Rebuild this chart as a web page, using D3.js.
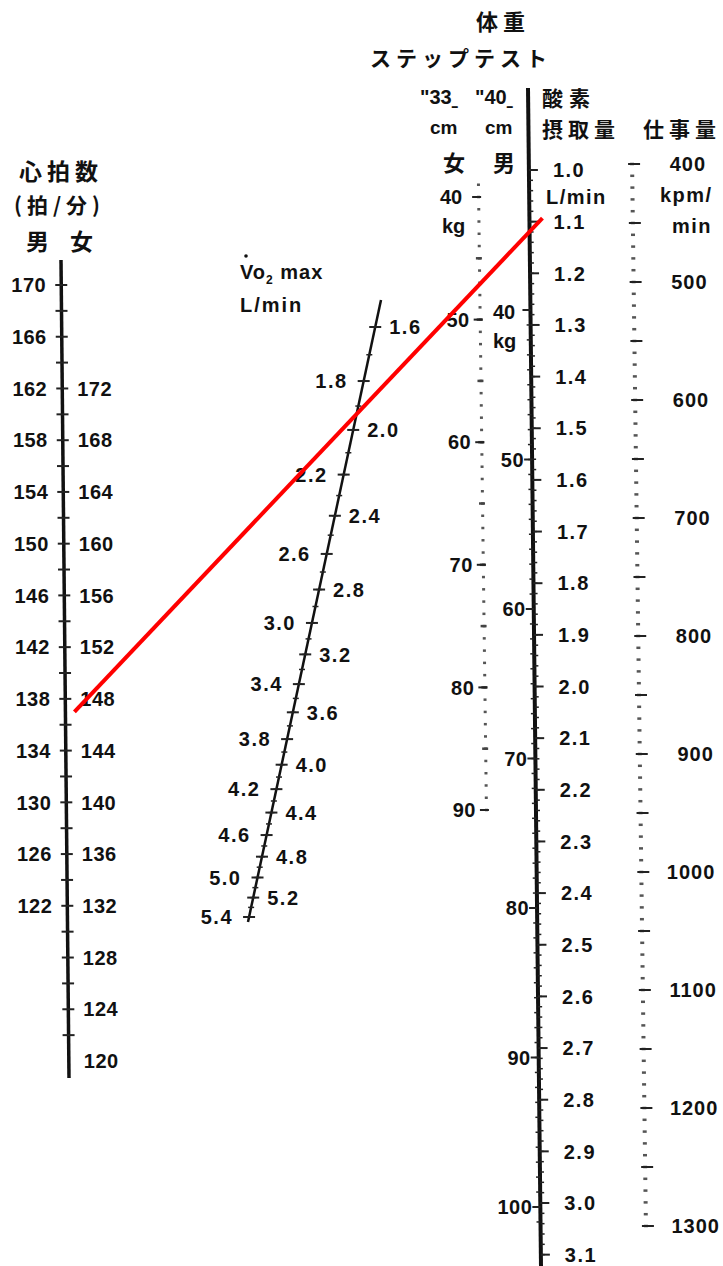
<!DOCTYPE html>
<html>
<head>
<meta charset="utf-8">
<script src="https://cdn.jsdelivr.net/npm/d3@7"></script>
<style>
  body { margin: 0; background: #fff; }
  text { font-family: "Liberation Sans", Arial, sans-serif; fill: #111; }
  .jp { font-family: "Noto Sans CJK JP", sans-serif; font-weight: 700; }
</style>
</head>
<body>
<div id="chart"></div>
<script>
// heart rate (bpm) labels, male on the left, female on the right
var hrMaleLabels = [170, 166, 162, 158, 154, 150, 146, 142, 138, 134, 130, 126, 122];
var hrFemaleLabels = [172, 168, 164, 160, 156, 152, 148, 144, 140, 136, 132, 128, 124, 120];
// VO2max L/min
var vo2Labels = [1.6, 1.8, 2.0, 2.2, 2.4, 2.6, 2.8, 3.0, 3.2, 3.4, 3.6, 3.8, 4.0, 4.2, 4.4, 4.6, 4.8, 5.0, 5.2, 5.4];
// body weight, step test (33cm women / 40cm men)
var femaleWeightLabels = [40, 50, 60, 70, 80, 90];
var maleWeightLabels = [40, 50, 60, 70, 80, 90, 100];
// oxygen uptake L/min
var o2Labels = [1.0, 1.1, 1.2, 1.3, 1.4, 1.5, 1.6, 1.7, 1.8, 1.9, 2.0, 2.1, 2.2, 2.3, 2.4, 2.5, 2.6, 2.7, 2.8, 2.9, 3.0, 3.1];
// work load kpm/min
var workLabels = [400, 500, 600, 700, 800, 900, 1000, 1100, 1200, 1300];
// the red example line: female heart rate -> oxygen uptake
var exampleHrFemale = 147;
var exampleO2 = 1.093;

var w = 723, h = 1266;

var svg = d3.select("#chart").append("svg")
  .attr("width", w)
  .attr("height", h);

// scales (value -> y)
var hrMale = d3.scaleLinear().domain([170, 110]).range([285, 1061]);
var hrFemale = d3.scaleLinear().domain([180, 120]).range([285, 1061]);
var vo2 = d3.scalePow().exponent(0.1).domain([1.6, 5.4]).range([327, 917]);
var wFemale = d3.scaleLinear().domain([40, 90]).range([197, 810]);
var wMale = d3.scaleLinear().domain([40, 100]).range([310, 1207]);
var o2 = d3.scaleLinear().domain([1.0, 3.0]).range([170, 1203]);
var work = d3.scaleLinear().domain([400, 1200]).range([164, 1108]);

// the scan's axes lean a little, so x depends on y
function axisX(ax, y) {
  return ax[0][0] + (ax[1][0] - ax[0][0]) * (y - ax[0][1]) / (ax[1][1] - ax[0][1]);
}
var hrAxis = [[61, 260], [69, 1078]];
var vo2Axis = [[381, 300], [248, 922]];
var femAxis = [[478, 188], [486, 815]];
var mainAxis = [[528, 88], [541, 1266]];
var workAxis = [[631, 158], [645, 1232]];

function axisLine(ax, width) {
  svg.append("line")
    .attr("x1", ax[0][0]).attr("y1", ax[0][1])
    .attr("x2", ax[1][0]).attr("y2", ax[1][1])
    .attr("stroke", "#111")
    .attr("stroke-width", width);
}

function ticks(ax, scale, values, left, right, sw, col) {
  svg.append("g").selectAll("line")
    .data(values)
    .enter()
    .append("line")
    .attr("x1", function(d){ return axisX(ax, scale(d)) - left; })
    .attr("x2", function(d){ return axisX(ax, scale(d)) + right; })
    .attr("y1", function(d){ return scale(d); })
    .attr("y2", function(d){ return scale(d); })
    .attr("stroke", col || "#222")
    .attr("stroke-width", sw || 1.6);
}

function labels(ax, scale, values, dx, anchor, fmt, ls) {
  svg.append("g").selectAll("text")
    .data(values)
    .enter()
    .append("text")
    .text(fmt)
    .attr("x", function(d){ return axisX(ax, scale(d)) + dx; })
    .attr("y", function(d){ return scale(d); })
    .attr("dy", "0.36em")
    .attr("text-anchor", anchor)
    .attr("font-size", 20)
    .attr("font-weight", "bold")
    .attr("letter-spacing", ls || 0.5);
}

var f1 = d3.format(".1f");

// ---- heart rate scale
axisLine(hrAxis, 3.5);
ticks(hrAxis, hrMale, d3.range(170, 110, -2), 6, 6, 2);
labels(hrAxis, hrMale, hrMaleLabels, -15, "end", function(d){ return d; });
labels(hrAxis, hrFemale, hrFemaleLabels, 15, "start", function(d){ return d; });

// ---- VO2max scale
axisLine(vo2Axis, 2.5);
ticks(vo2Axis, vo2, d3.range(16, 55, 1).map(function(d){ return d / 10; }), 3, 3, 1.5);
ticks(vo2Axis, vo2, vo2Labels, 6, 6, 2);
labels(vo2Axis, vo2, vo2Labels.filter(function(d, i){ return i % 2 == 0; }), 14, "start", f1, 1.5);
labels(vo2Axis, vo2, vo2Labels.filter(function(d, i){ return i % 2 == 1; }), -16, "end", f1, 1.5);

// ---- female body weight (dotted)
ticks(femAxis, wFemale, d3.range(39, 91, 1), 1, 2, 2.5, "#555");
ticks(femAxis, wFemale, d3.range(45, 90, 5), 3, 3, 2.5, "#444");
ticks(femAxis, wFemale, femaleWeightLabels, 6, 3, 2);
labels(femAxis, wFemale, femaleWeightLabels.slice(1), -10, "end", function(d){ return d; });

// ---- main oxygen uptake line, male weight on its left
axisLine(mainAxis, 4);
ticks(mainAxis, wMale, d3.range(40, 102, 1), 4, 0, 1.5);
ticks(mainAxis, wMale, maleWeightLabels, 8, 0, 2);
ticks(mainAxis, o2, d3.range(100, 312, 2).map(function(d){ return d / 100; }), 0, 4, 1.5);
ticks(mainAxis, o2, o2Labels, 0, 9, 2);
labels(mainAxis, wMale, maleWeightLabels.slice(1), -8, "end", function(d){ return d; });
labels(mainAxis, o2, o2Labels, 24, "start", f1, 1.5);

// ---- work load (dotted)
ticks(workAxis, work, d3.range(400, 1310, 10), 1, 3, 2.5, "#555");
ticks(workAxis, work, d3.range(400, 1310, 50), 3, 9, 2);
labels(workAxis, work, workLabels, 75, "end", function(d){ return d; }, 1);

// ---- red example line
var ry1 = hrFemale(exampleHrFemale), ry2 = o2(exampleO2);
svg.append("line")
  .attr("x1", axisX(hrAxis, ry1) + 9).attr("y1", ry1)
  .attr("x2", axisX(mainAxis, ry2) + 13).attr("y2", ry2)
  .attr("stroke", "#ff0000")
  .attr("stroke-width", 4);

// ---- titles
function txt(s, x, y, size, cls, anchor, ls) {
  return svg.append("text")
    .attr("class", cls || null)
    .attr("x", x).attr("y", y)
    .attr("dy", "0.36em")
    .attr("text-anchor", anchor || "start")
    .attr("font-size", size)
    .attr("letter-spacing", ls || 0)
    .text(s);
}
function btxt(s, x, y, size, ls) {
  return txt(s, x, y, size, null, "start", ls).attr("font-weight", "bold");
}

txt("心拍数", 19, 172, 23, "jp", "start", 5);
txt("(拍/分)", 14, 205, 21, "jp", "start", 5);
txt("男", 26, 242, 23, "jp");
txt("女", 70, 242, 23, "jp");

var vt = btxt("V", 240, 272, 20, 1);
vt.append("tspan").text("o");
vt.append("tspan").text("2").attr("font-size", 12).attr("dy", 5);
vt.append("tspan").text(" max").attr("dy", -5);
svg.append("circle").attr("cx", 246).attr("cy", 256).attr("r", 1.8).attr("fill", "#111");
btxt("L/min", 240, 305, 20, 2);

txt("体重", 476, 22, 22, "jp", "start", 5);
txt("ステップテスト", 370, 58, 21, "jp", "start", 5);
var t33 = btxt("\"33", 420, 97, 20);
t33.append("tspan").text("▬").attr("font-size", 6).attr("dy", 4);
var t40 = btxt("\"40", 475, 97, 20);
t40.append("tspan").text("▬").attr("font-size", 6).attr("dy", 4);
btxt("cm", 430, 127, 19);
btxt("cm", 485, 127, 19);
txt("女", 443, 163, 22, "jp");
txt("男", 493, 163, 22, "jp");
btxt("40", 440, 197, 20);
btxt("kg", 442, 226, 20);
btxt("40", 493, 312, 20);
btxt("kg", 493, 341, 20);

txt("酸素", 542, 98, 21, "jp", "start", 6);
txt("摂取量", 542, 129, 21, "jp", "start", 5);
btxt("L/min", 546, 197, 20, 1.5);
txt("仕事量", 643, 129, 21, "jp", "start", 5);
btxt("kpm/", 660, 195, 20, 1.5);
btxt("min", 672, 226, 20, 1.5);
</script>
</body>
</html>
